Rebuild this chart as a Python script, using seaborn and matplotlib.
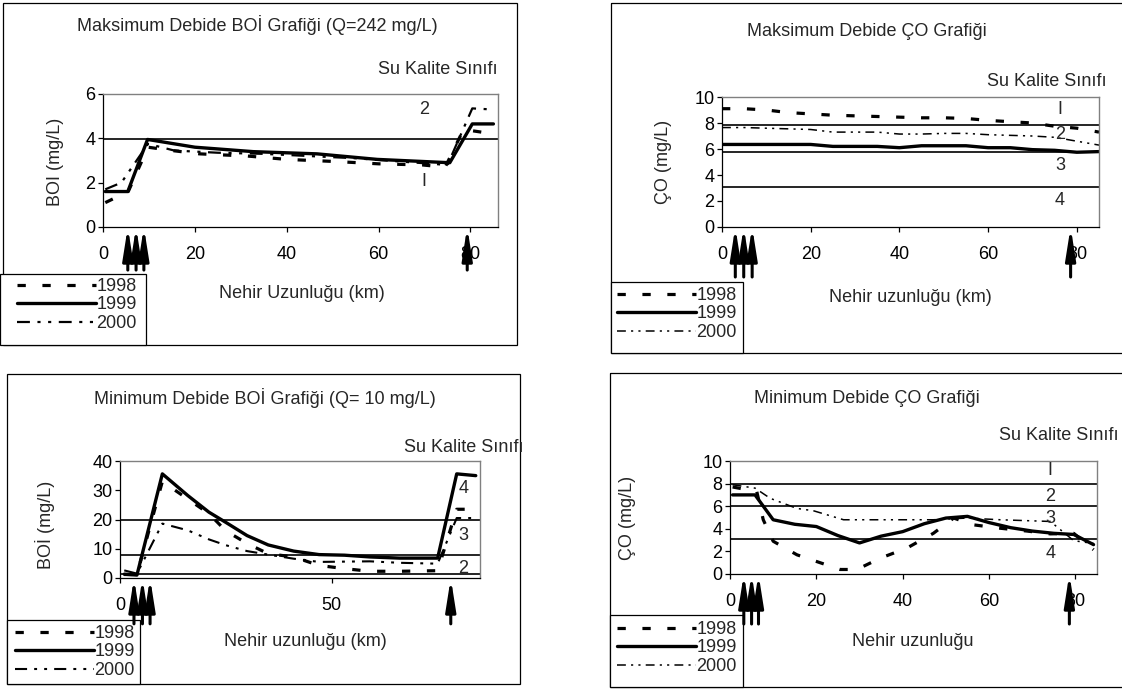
import matplotlib
matplotlib.use("Agg")
import matplotlib.pyplot as plt
import seaborn as sns
from matplotlib.patches import Rectangle

# ==============================
# DATA
# ==============================
years = ["1998", "1999", "2000"]

# Maksimum Debide BOI
bod_max_x_1998 = [0.5, 3, 5.5, 9.8, 15, 21, 31.5, 40, 51, 60, 69.5, 74.5, 78.5, 85]
bod_max_1998 = [1.1, 1.35, 1.6, 3.6, 3.45, 3.3, 3.2, 3.05, 2.95, 2.85, 2.8, 2.7, 4.4, 4.2]
bod_max_x_1999 = [0.5, 5.4, 9.7, 20, 32.7, 46.6, 59.7, 75.5, 80.4, 85]
bod_max_1999 = [1.6, 1.6, 3.95, 3.6, 3.4, 3.3, 3.05, 2.9, 4.65, 4.65]
bod_max_x_2000 = [0.5, 4, 9.8, 15.5, 25, 35, 45, 55, 65, 75, 80.4, 85]
bod_max_2000 = [1.7, 2.0, 3.75, 3.45, 3.35, 3.3, 3.2, 3.1, 2.95, 2.8, 5.35, 5.3]
bod_max_classes = [3.96]
bod_max_class_labels = [("2", 69.9, 5.3), ("I", 69.9, 2.05)]
bod_max_outfalls = [5.4, 7.2, 8.9, 79.3]

# Maksimum Debide CO
do_max_x = [0, 5, 10, 15, 20, 25, 30, 35, 40, 45, 50, 55, 60, 65, 70, 75, 80, 85]
do_max_1998 = [9.1, 9.1, 9.0, 8.8, 8.7, 8.6, 8.55, 8.5, 8.45, 8.4, 8.4, 8.35, 8.2, 8.1, 8.0, 7.75, 7.6, 7.3]
do_max_1999 = [6.35, 6.35, 6.35, 6.35, 6.35, 6.2, 6.2, 6.2, 6.1, 6.25, 6.25, 6.25, 6.1, 6.1, 5.95, 5.9, 5.75, 5.8]
do_max_2000 = [7.65, 7.65, 7.6, 7.55, 7.5, 7.3, 7.3, 7.3, 7.15, 7.15, 7.2, 7.2, 7.1, 7.05, 7.0, 6.9, 6.6, 6.3]
do_max_classes = [7.85, 5.8, 3.05]
do_max_class_labels = [("I", 76.2, 9.0), ("2", 76.2, 7.1), ("3", 76.2, 4.7), ("4", 76.2, 2.0)]
do_max_outfalls = [3.0, 4.9, 6.8, 78.6]

# Minimum Debide BOI
bod_min_x = [1, 4, 10, 16, 21, 25, 30, 35, 41, 47, 53, 59, 66, 75, 79.5, 84]
bod_min_1998 = [1.2, 1.2, 33, 27, 22, 16.1, 11.8, 8.3, 7.2, 4.3, 3.2, 2.3, 2.3, 2.5, 23.5, 23.5]
bod_min_1999 = [1.3, 1.0, 35.6, 28.2, 22.5, 19, 14.5, 11.3, 9.2, 8, 7.8, 7.2, 6.8, 6.8, 35.6, 35]
bod_min_2000 = [2.6, 1.5, 18.6, 16.3, 13.2, 11.2, 9.2, 8.0, 6.6, 5.5, 5.6, 5.7, 5.2, 4.9, 20.5, 20.5]
bod_min_classes = [20, 8, 1.3]
bod_min_class_labels = [("4", 81.1, 30.5), ("3", 81.1, 14.5), ("2", 81.1, 3.2)]
bod_min_outfalls = [3.3, 5.3, 7.1, 78.1]

# Minimum Debide CO
do_min_x_1998 = [0.6, 6.2, 7.7, 10, 15.5, 20.1, 25.5, 29.4, 34.8, 41, 47.1, 51.8, 56.4, 62.6, 68.8, 74.2, 79.6, 84.2]
do_min_1998 = [7.7, 7.3, 4.8, 2.9, 1.7, 1.1, 0.4, 0.4, 1.4, 2.3, 3.6, 4.95, 4.35, 4.05, 3.8, 3.55, 3.6, 2.15]
do_min_x_1999 = [0.6, 5.8, 10, 15, 20, 25, 30, 35, 40, 45, 50, 55, 60, 65, 70, 75, 79.6, 84.2]
do_min_1999 = [7.0, 7.0, 4.8, 4.4, 4.2, 3.4, 2.75, 3.35, 3.75, 4.45, 4.95, 5.1, 4.55, 4.1, 3.8, 3.6, 3.5, 2.6]
do_min_x_2000 = [0.6, 5.8, 9.3, 15.5, 19.3, 26.3, 39.4, 47.1, 54.8, 62.6, 74.2, 79.6, 84.2]
do_min_2000 = [7.9, 7.6, 6.7, 5.8, 5.6, 4.8, 4.8, 4.8, 4.95, 4.8, 4.65, 2.95, 2.7]
do_min_classes = [8, 6, 3.1]
do_min_class_labels = [("I", 74.2, 9.2), ("2", 74.2, 6.85), ("3", 74.2, 4.9), ("4", 74.2, 1.8)]
do_min_outfalls = [3.2, 5.0, 6.6, 78.6]

# ==============================
# STYLE
# ==============================
W, H = 1122, 689
sns.set_style("white")
plt.rcParams["font.family"] = ["Liberation Sans", "DejaVu Sans"]
plt.rcParams["font.size"] = 13

FS = 13
GREY = "#808080"


def rect_px(left, top, right, bottom):
    return [left / W, 1 - bottom / H, (right - left) / W, (bottom - top) / H]


def fpos(x, y):
    return x / W, 1 - y / H


fig = plt.figure(figsize=(W / 100, H / 100), dpi=100)
fig.patch.set_facecolor("white")

# background layer in pixel coordinates for boxes
bg = fig.add_axes([0, 0, 1, 1])
bg.set_xlim(0, W)
bg.set_ylim(H, 0)
bg.axis("off")


def draw_panel(area, xlim, ylim, xticks, yticks, series, classes, class_labels,
               outfalls, lw2000, tail, legend_box, legend_xy, title, title_xy,
               sub_xy, xlabel, xlabel_xy, ylabel, ylabel_xy, box):
    # outer panel frame
    bx0, by0, bx1, by1 = box
    bg.add_patch(Rectangle((bx0, by0), bx1 - bx0, by1 - by0, fill=False,
                           edgecolor="black", lw=0.9))

    ax = fig.add_axes(rect_px(*area))
    ax.set_facecolor("white")

    styles = [
        dict(linewidth=2.3, linestyle=(0, (2.6, 5.2))),
        dict(linewidth=2.4, linestyle="-"),
        dict(linewidth=lw2000, linestyle=(0, (5.8, 3.4, 1.4, 3.4, 1.4, 3.4))),
    ]

    for y in classes:
        ax.axhline(y, color="black", lw=1.2, zorder=1)

    handles = []
    for (xs, ys), st in zip(series, styles):
        sns.lineplot(x=xs, y=ys, ax=ax, color="black", sort=False,
                     errorbar=None, solid_joinstyle="round", **st)
        handles.append(ax.lines[-1])

    ax.set_xlim(*xlim)
    ax.set_ylim(*ylim)
    ax.set_xticks(xticks)
    ax.set_yticks(yticks)
    ax.set_xlabel("")
    ax.set_ylabel("")

    for side in ["left", "bottom"]:
        ax.spines[side].set_color("black")
        ax.spines[side].set_linewidth(0.9)
    for side in ["top", "right"]:
        ax.spines[side].set_color(GREY)
        ax.spines[side].set_linewidth(1.0)

    ax.tick_params(direction="out", length=3.5, width=0.9, labelsize=FS,
                   bottom=True, left=True, colors="black")
    ax.tick_params(axis="x", pad=10)
    ax.tick_params(axis="y", pad=2)

    for txt, lx, ly in class_labels:
        ax.text(lx, ly, txt, ha="center", va="center", fontsize=FS, zorder=5)

    # outfall arrows under the x axis
    for a in outfalls:
        ax.annotate("", xy=(a, 0), xycoords=("data", "axes fraction"),
                    xytext=(0, -tail), textcoords="offset points",
                    arrowprops=dict(arrowstyle="-|>,head_length=1.9,head_width=0.3",
                                    color="black", lw=2.2, shrinkA=0, shrinkB=0,
                                    mutation_scale=10),
                    annotation_clip=False, zorder=6)

    # legend
    lx0, ly0, lx1, ly1 = legend_box
    bg.add_patch(Rectangle((lx0, ly0), lx1 - lx0, ly1 - ly0, fill=True,
                           facecolor="white", edgecolor="black", lw=0.9, zorder=2))
    leg = ax.legend(handles, years, loc="upper left",
                    bbox_to_anchor=fpos(*legend_xy), bbox_transform=fig.transFigure,
                    frameon=False, fontsize=13, handlelength=4.4,
                    handletextpad=0.0, borderpad=0, borderaxespad=0,
                    labelspacing=0.08)
    leg.set_zorder(7)

    fig.text(*fpos(*title_xy), title, ha="center", va="center", fontsize=FS)
    fig.text(*fpos(*sub_xy), "Su Kalite Sınıfı", ha="left", va="center", fontsize=FS)
    fig.text(*fpos(*xlabel_xy), xlabel, ha="center", va="center", fontsize=FS)
    fig.text(*fpos(*ylabel_xy), ylabel, ha="center", va="center", fontsize=FS,
             rotation=90)
    return ax


# ==============================
# PANEL 1 - Maksimum Debide BOI
# ==============================
draw_panel(area=(103, 94, 498, 227), xlim=(0, 86), ylim=(0, 6),
           xticks=[0, 20, 40, 60, 80], yticks=[0, 2, 4, 6],
           series=[(bod_max_x_1998, bod_max_1998), (bod_max_x_1999, bod_max_1999),
                   (bod_max_x_2000, bod_max_2000)],
           classes=bod_max_classes, class_labels=bod_max_class_labels,
           outfalls=bod_max_outfalls, lw2000=1.6, tail=31,
           legend_box=(0, 274, 146, 345), legend_xy=(17, 278),
           title="Maksimum Debide BOİ Grafiği (Q=242 mg/L)", title_xy=(257, 25),
           sub_xy=(378, 70), xlabel="Nehir Uzunluğu (km)", xlabel_xy=(302, 293),
           ylabel="BOI (mg/L)", ylabel_xy=(55, 162), box=(3, 3, 517, 345))

# ==============================
# PANEL 2 - Maksimum Debide CO
# ==============================
draw_panel(area=(722, 97, 1099, 227), xlim=(0, 85), ylim=(0, 10),
           xticks=[0, 20, 40, 60, 80], yticks=[0, 2, 4, 6, 8, 10],
           series=[(do_max_x, do_max_1998), (do_max_x, do_max_1999),
                   (do_max_x, do_max_2000)],
           classes=do_max_classes, class_labels=do_max_class_labels,
           outfalls=do_max_outfalls, lw2000=1.1, tail=36,
           legend_box=(611, 282, 743, 353), legend_xy=(617, 287),
           title="Maksimum Debide ÇO Grafiği", title_xy=(867, 32),
           sub_xy=(987, 81), xlabel="Nehir uzunluğu (km)", xlabel_xy=(910, 298),
           ylabel="ÇO (mg/L)", ylabel_xy=(663, 162), box=(611, 3, 1130, 353))

# ==============================
# PANEL 3 - Minimum Debide BOI
# ==============================
draw_panel(area=(120, 461, 480, 578), xlim=(0, 85), ylim=(0, 40),
           xticks=[0, 50], yticks=[0, 10, 20, 30, 40],
           series=[(bod_min_x, bod_min_1998), (bod_min_x, bod_min_1999),
                   (bod_min_x, bod_min_2000)],
           classes=bod_min_classes, class_labels=bod_min_class_labels,
           outfalls=bod_min_outfalls, lw2000=1.5, tail=33,
           legend_box=(7, 620, 140, 684), legend_xy=(15, 625),
           title="Minimum Debide BOİ Grafiği (Q= 10 mg/L)", title_xy=(265, 398),
           sub_xy=(404, 448), xlabel="Nehir uzunluğu (km)", xlabel_xy=(305, 642),
           ylabel="BOİ (mg/L)", ylabel_xy=(45, 525), box=(7, 374, 520, 684))

# ==============================
# PANEL 4 - Minimum Debide CO
# ==============================
draw_panel(area=(730, 461, 1097, 574), xlim=(0, 85), ylim=(0, 10),
           xticks=[0, 20, 40, 60, 80], yticks=[0, 2, 4, 6, 8, 10],
           series=[(do_min_x_1998, do_min_1998), (do_min_x_1999, do_min_1999),
                   (do_min_x_2000, do_min_2000)],
           classes=do_min_classes, class_labels=do_min_class_labels,
           outfalls=do_min_outfalls, lw2000=1.1, tail=36,
           legend_box=(610, 615, 743, 687), legend_xy=(617, 621),
           title="Minimum Debide ÇO Grafiği", title_xy=(867, 398),
           sub_xy=(999, 435), xlabel="Nehir uzunluğu", xlabel_xy=(913, 642),
           ylabel="ÇO (mg/L)", ylabel_xy=(627, 518), box=(610, 373, 1130, 687))

fig.savefig("out.png", dpi=100, facecolor="white")
plt.close(fig)
